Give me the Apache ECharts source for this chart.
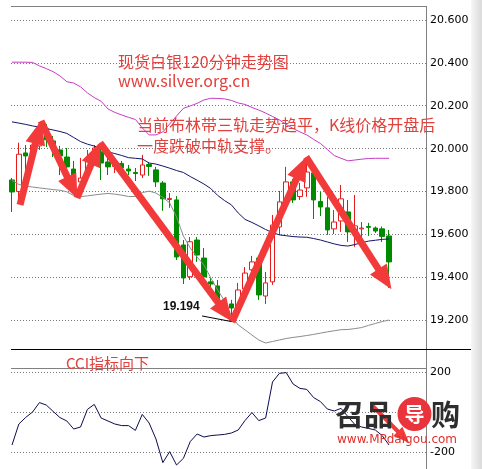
<!DOCTYPE html>
<html><head><meta charset="utf-8">
<script src="https://cdn.jsdelivr.net/npm/echarts@6/dist/echarts.min.js"></script>
<style>html,body{margin:0;padding:0;background:#fff}#c{width:482px;height:469px}</style>
</head><body><div id="c"></div>
<script>
// ---- data (120-minute silver chart) ----
const openP  = [19.854,19.800,19.980,19.966,20.013,20.092,20.036,19.994,19.961,19.905,19.845,19.877,19.957,19.985,19.938,19.917,19.931,19.905,19.889,19.877,19.926,19.901,19.840,19.763,19.761,19.551,19.403,19.574,19.490,19.379,19.360,19.225,19.276,19.257,19.346,19.435,19.490,19.313,19.379,19.635,19.756,19.845,19.777,19.817,19.887,19.754,19.724,19.626,19.663,19.705,19.612,19.626,19.637,19.630,19.626,19.593];
const closeP = [19.798,19.974,19.966,20.017,20.069,20.041,20.003,19.966,19.915,19.854,19.863,19.957,20.003,19.933,19.915,19.924,19.910,19.896,19.884,19.924,19.917,19.845,19.766,19.768,19.495,19.397,19.566,19.504,19.402,19.369,19.281,19.271,19.257,19.341,19.420,19.472,19.318,19.374,19.644,19.752,19.845,19.761,19.807,19.891,19.761,19.728,19.621,19.658,19.766,19.612,19.640,19.630,19.633,19.616,19.591,19.472];
const lowP   = [19.705,19.764,19.901,19.947,19.994,20.008,19.961,19.877,19.901,19.817,19.826,19.854,19.938,19.854,19.877,19.887,19.887,19.877,19.849,19.863,19.873,19.821,19.710,19.724,19.481,19.369,19.388,19.472,19.388,19.341,19.257,19.215,19.194,19.239,19.332,19.397,19.295,19.276,19.365,19.598,19.738,19.747,19.761,19.775,19.672,19.686,19.598,19.602,19.612,19.565,19.542,19.574,19.593,19.607,19.565,19.351];
const highP  = [19.863,20.028,20.017,20.041,20.115,20.115,20.059,20.013,20.003,19.943,19.957,19.994,20.017,20.013,19.966,19.947,19.943,19.924,19.910,19.971,19.938,19.915,19.849,19.793,19.779,19.574,19.588,19.588,19.537,19.397,19.388,19.304,19.295,19.374,19.448,19.500,19.500,19.425,19.691,19.803,19.915,19.859,19.840,19.938,19.901,19.798,19.775,19.714,19.831,19.761,19.784,19.658,19.654,19.637,19.637,19.621];
const upperBand = [20.403,20.403,20.403,20.402,20.386,20.373,20.359,20.339,20.312,20.306,20.288,20.260,20.238,20.221,20.185,20.169,20.157,20.146,20.136,20.097,20.064,20.064,20.078,20.115,20.152,20.188,20.199,20.211,20.227,20.235,20.234,20.232,20.225,20.213,20.206,20.192,20.180,20.166,20.150,20.134,20.113,20.094,20.078,20.064,20.043,20.024,19.996,19.968,19.955,19.943,19.947,19.951,19.954,19.955,19.955,19.955];
const midBand = [20.125,20.119,20.113,20.106,20.100,20.094,20.087,20.080,20.071,20.052,20.033,20.021,20.012,19.999,19.985,19.977,19.968,19.958,19.955,19.952,19.933,19.928,19.919,19.909,19.898,19.889,19.870,19.853,19.835,19.814,19.782,19.758,19.738,19.700,19.670,19.656,19.640,19.623,19.609,19.598,19.594,19.590,19.588,19.587,19.581,19.574,19.565,19.556,19.549,19.546,19.553,19.561,19.569,19.573,19.577,19.579];
const lowerBand = [19.852,19.833,19.825,19.821,19.817,19.813,19.809,19.806,19.799,19.781,19.776,19.780,19.784,19.788,19.791,19.788,19.783,19.777,19.777,19.795,19.802,19.793,19.773,19.747,19.682,19.593,19.537,19.495,19.458,19.397,19.341,19.290,19.220,19.178,19.155,19.131,19.108,19.094,19.101,19.108,19.115,19.120,19.124,19.129,19.134,19.140,19.146,19.151,19.156,19.157,19.161,19.166,19.176,19.185,19.194,19.201];
const cci = [-165,-60,-27,0,47,35,3,-28,-45,-85,-75,13,38,-30,-45,-60,-68,-68,-92,-12,-55,-135,-253,-198,-265,-232,-148,-110,-125,-118,-115,-112,-105,-90,-42,-3,-43,-30,150,193,197,140,118,113,72,52,15,5,18,-23,-62,-75,-82,-90,-118,-165];
const priceTicks = [19.2,19.4,19.6,19.8,20.0,20.2,20.4,20.6];
const cciTicks = [-200,0,200];
const cciLabels = [-200,200];
// trend arrows [fromIndex, fromPrice, toIndex, toPrice]
const arrows = [
  [1.17,19.738, 3.83,20.077],
  [4.23,20.129, 8.80,19.818],
  [9.48,19.770, 12.20,19.978],
  [12.84,20.027, 31.10,19.238],
  [32.09,19.192, 42.22,19.910],
  [42.89,19.961, 54.40,19.392]
];
const cciArrow = [52.47,35, 57.10,-125];
const lowMark = {label:'19.194', from:[27.72,19.220], to:[32,19.194]};

const idx = openP.map((_, i) => i);
const candles = idx.map(i => [i, openP[i], closeP[i], lowP[i], highP[i]]);

const chart = echarts.init(document.getElementById('c'), null, {renderer:'canvas'});
const red = '#e41c1c', green = '#008a00', txtRed = '#e2403c', arrowRed = '#f23a3a';
const cjk = '"Noto Sans CJK SC", sans-serif';
const xCommon = {type:'value', min:-0.146, max:60.39, show:false};

chart.setOption({
  animation:false,
  backgroundColor:'#ffffff',
  grid:[
    {left:11, top:6, width:415, height:343},
    {left:11, top:368, width:415, height:101}
  ],
  xAxis:[ Object.assign({gridIndex:0}, xCommon), Object.assign({gridIndex:1}, xCommon) ],
  yAxis:[
    {gridIndex:0, type:'value', position:'right', min:19.066, max:20.665,
     axisLine:{show:false}, axisTick:{show:false, customValues:priceTicks},
     axisLabel:{customValues:priceTicks, formatter:v => Number(v).toFixed(3), color:'#000', fontFamily:'DejaVu Sans', fontSize:11, margin:4, padding:[7,0,0,0]},
     splitLine:{show:true, lineStyle:{color:'#7a7a7a', width:1, type:[1,2]}}},
    {gridIndex:1, type:'value', position:'right', min:-285, max:220,
     axisLine:{show:false}, axisTick:{show:false, customValues:cciTicks},
     axisLabel:{customValues:cciLabels, color:'#000', fontFamily:'DejaVu Sans', fontSize:11, margin:4, padding:[7,0,0,0]},
     splitLine:{show:true, lineStyle:{color:'#7a7a7a', width:1, type:[1,2]}}}
  ],
  series:[
    {type:'candlestick', xAxisIndex:0, yAxisIndex:0, data:candles, barWidth:5,
     itemStyle:{color:'#ffffff', color0:green, borderColor:red, borderColor0:green, borderWidth:1}, z:2},
    {type:'line', xAxisIndex:0, yAxisIndex:0, data:idx.map(i=>[i, upperBand[i]]), symbol:'none', lineStyle:{color:'#c63cc6', width:1}, z:3},
    {type:'line', xAxisIndex:0, yAxisIndex:0, data:idx.map(i=>[i, midBand[i]]), symbol:'none', lineStyle:{color:'#14146a', width:1}, z:3},
    {type:'line', xAxisIndex:0, yAxisIndex:0, data:idx.map(i=>[i, lowerBand[i]]), symbol:'none', lineStyle:{color:'#8c8c8c', width:1}, z:3},
    {type:'line', xAxisIndex:0, yAxisIndex:0, data:[], symbol:'none', z:6,
     markLine:{silent:true, animation:false, symbol:['none','triangle'], symbolSize:[20,24],
       label:{show:false}, lineStyle:{color:arrowRed, width:7, type:'solid', opacity:1},
       data: arrows.map(a => [{coord:[a[0],a[1]]},{coord:[a[2],a[3]]}])
         .concat([[{coord:lowMark.from, symbol:'none', lineStyle:{color:'#000', width:1}},{coord:lowMark.to, symbol:'none'}]])
     }},
    {type:'line', xAxisIndex:1, yAxisIndex:1, data:idx.map(i=>[i, cci[i]]), symbol:'none', lineStyle:{color:'#0c0c50', width:1}, z:3},
    {type:'line', xAxisIndex:1, yAxisIndex:1, data:[], symbol:'none', z:8,
     markLine:{silent:true, animation:false, symbol:['none','triangle'], symbolSize:[13,16],
       label:{show:false}, lineStyle:{color:arrowRed, width:4, type:'solid', opacity:1},
       data:[[{coord:[cciArrow[0],cciArrow[1]]},{coord:[cciArrow[2],cciArrow[3]]}]]}}
  ],
  graphic:[
    {type:'rect', shape:{x:471, y:0, width:11, height:469}, style:{fill:new echarts.graphic.LinearGradient(0,0,1,0,[{offset:0,color:'#f6f6f6'},{offset:1,color:'#dadada'}])}, z:1},
    {type:'line', shape:{x1:11, y1:6.5, x2:426, y2:6.5}, style:{stroke:'#808080', lineWidth:1}, z:10},
    {type:'line', shape:{x1:426.5, y1:6, x2:426.5, y2:469}, style:{stroke:'#808080', lineWidth:1}, z:10},
    {type:'line', shape:{x1:11, y1:349.5, x2:471, y2:349.5}, style:{stroke:'#000', lineWidth:1}, z:10},
    {type:'line', shape:{x1:11, y1:368.5, x2:426, y2:368.5}, style:{stroke:'#808080', lineWidth:1}, z:10},
    {type:'text', x:118, y:62, style:{text:'现货白银120分钟走势图', fill:txtRed, font:'16px '+cjk, verticalAlign:'middle'}, z:20},
    {type:'text', x:118, y:81, style:{text:'www.silver.org.cn', fill:txtRed, font:'16px '+cjk, verticalAlign:'middle'}, z:20},
    {type:'text', x:137, y:125, style:{text:'当前布林带三轨走势趋平，K线价格开盘后', fill:txtRed, font:'16px '+cjk, verticalAlign:'middle'}, z:20},
    {type:'text', x:137, y:145.5, style:{text:'一度跌破中轨支撑。', fill:txtRed, font:'16px '+cjk, verticalAlign:'middle'}, z:20},
    {type:'text', x:66, y:363, style:{text:'CCI指标向下', fill:txtRed, font:'15px '+cjk, verticalAlign:'middle'}, z:20},
    {type:'text', x:163, y:307, style:{text:lowMark.label, fill:'#111', font:'bold 12px "Liberation Sans", sans-serif', verticalAlign:'middle'}, z:20},
    {type:'text', x:335, y:415, style:{text:'召品', fill:'#2e2e2e', font:'bold 29px '+cjk, verticalAlign:'middle'}, z:30},
    {type:'circle', shape:{cx:414.5, cy:414, r:17}, style:{fill:'#e8343a'}, z:30},
    {type:'text', x:414.5, y:414, style:{text:'导', fill:'#ffffff', font:'bold 20px '+cjk, align:'center', verticalAlign:'middle'}, z:31},
    {type:'text', x:431, y:415, style:{text:'购', fill:'#2e2e2e', font:'bold 29px '+cjk, verticalAlign:'middle'}, z:30},
    {type:'text', x:337, y:440, style:{text:'www.MPdaigou.com', fill:'#e0302c', font:'12px "DejaVu Sans", sans-serif', verticalAlign:'middle'}, z:30}
  ]
});
</script>
</body></html>
